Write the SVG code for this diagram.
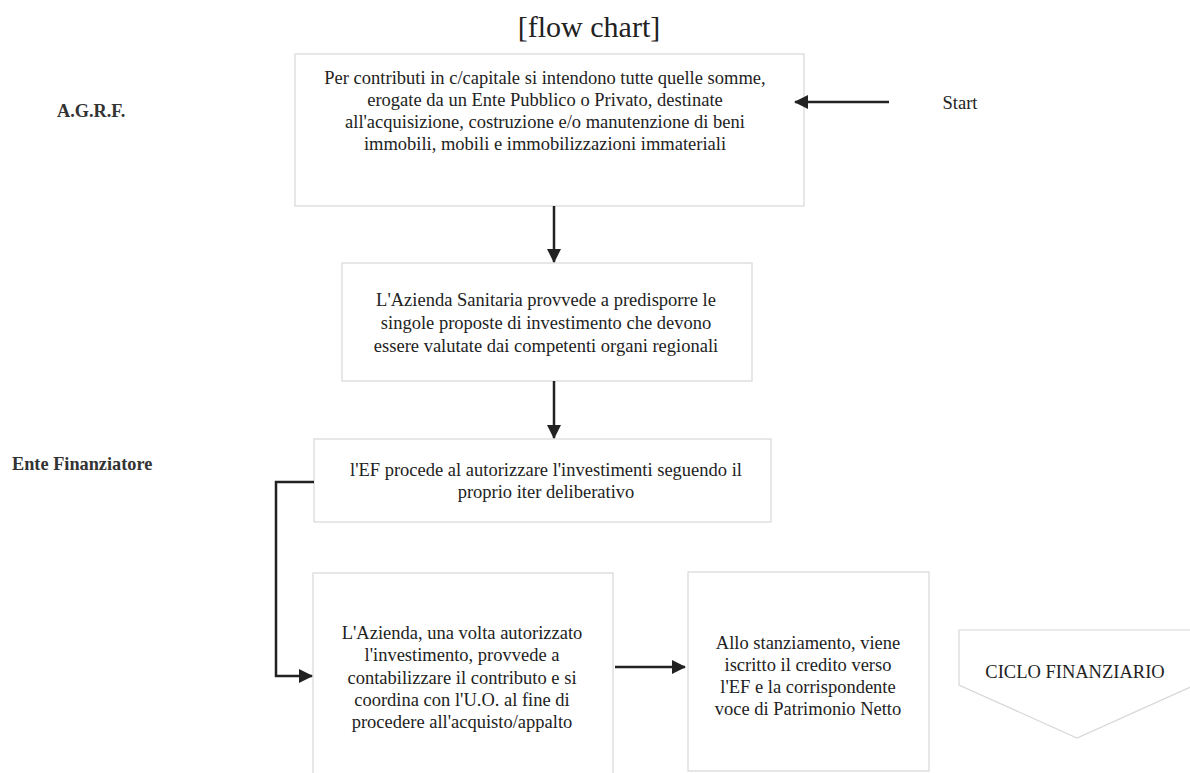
<svg xmlns="http://www.w3.org/2000/svg" width="1190" height="773" viewBox="0 0 1190 773">
  <style>
    .box { fill: #ffffff; stroke: #d8d8d8; stroke-width: 1.2; }
    .txt { font-family: "Liberation Serif", "Times New Roman", serif; font-size: 18.5px; fill: #222; text-anchor: middle; }
    .lbl { font-family: "Liberation Serif", "Times New Roman", serif; font-size: 18.3px; font-weight: bold; fill: #333; }
    .edge { fill: none; stroke: #222; stroke-width: 2.5; }
  </style>
  <defs>
    <marker id="arrow" viewBox="0 0 14 14" refX="13" refY="7" markerWidth="14" markerHeight="14" markerUnits="userSpaceOnUse" orient="auto">
      <path d="M0,0 L14,7 L0,14 z" fill="#222"/>
    </marker>
  </defs>
  <rect width="1190" height="773" fill="#ffffff"/>

  <text x="589" y="37" font-family="Liberation Serif, Times New Roman, serif" font-size="30" fill="#222" text-anchor="middle">[flow chart]</text>

  <text class="lbl" x="57" y="117">A.G.R.F.</text>
  <text class="lbl" x="12" y="470">Ente Finanziatore</text>
  <text class="txt" x="960" y="109">Start</text>

  <g id="node-definizione">
    <rect class="box" x="295" y="54" width="509" height="152"/>
    <text class="txt" x="545" y="84">Per contributi in c/capitale si intendono tutte quelle somme,</text>
    <text class="txt" x="545" y="106">erogate da un Ente Pubblico o Privato, destinate</text>
    <text class="txt" x="545" y="128">all'acquisizione, costruzione e/o manutenzione di beni</text>
    <text class="txt" x="545" y="150">immobili, mobili e immobilizzazioni immateriali</text>
  </g>

  <g id="node-proposte">
    <rect class="box" x="342" y="263" width="410" height="118"/>
    <text class="txt" x="546" y="306">L'Azienda Sanitaria provvede a predisporre le</text>
    <text class="txt" x="546" y="329">singole proposte di investimento che devono</text>
    <text class="txt" x="546" y="352">essere valutate dai competenti organi regionali</text>
  </g>

  <g id="node-autorizzazione">
    <rect class="box" x="314" y="439" width="457" height="83"/>
    <text class="txt" x="546" y="476">l'EF procede al autorizzare l'investimenti seguendo il</text>
    <text class="txt" x="546" y="498">proprio iter deliberativo</text>
  </g>

  <g id="node-contabilizzazione">
    <rect class="box" x="313" y="573" width="300" height="205"/>
    <text class="txt" x="462" y="639">L'Azienda, una volta autorizzato</text>
    <text class="txt" x="462" y="661">l'investimento, provvede a</text>
    <text class="txt" x="462" y="684">contabilizzare il contributo e si</text>
    <text class="txt" x="462" y="706">coordina con l'U.O. al fine di</text>
    <text class="txt" x="462" y="728">procedere all'acquisto/appalto</text>
  </g>

  <g id="node-stanziamento">
    <rect class="box" x="688" y="572" width="241" height="199"/>
    <text class="txt" x="808" y="649">Allo stanziamento, viene</text>
    <text class="txt" x="808" y="671">iscritto il credito verso</text>
    <text class="txt" x="808" y="693">l'EF e la corrispondente</text>
    <text class="txt" x="808" y="715">voce di Patrimonio Netto</text>
  </g>

  <g id="node-ciclo">
    <path class="box" d="M959,630 L1195,630 L1195,685 L1077,738 L959,685 Z"/>
    <text class="txt" x="1075" y="678">CICLO FINANZIARIO</text>
  </g>

  <g id="connectors">
    <path class="edge" d="M889,102 L795,102" marker-end="url(#arrow)"/>
    <path class="edge" d="M554,206 L554,262" marker-end="url(#arrow)"/>
    <path class="edge" d="M554,381 L554,438" marker-end="url(#arrow)"/>
    <path class="edge" d="M314,482 L276,482 L276,676 L312,676" marker-end="url(#arrow)"/>
    <path class="edge" d="M615,667 L685,667" marker-end="url(#arrow)"/>
  </g>
</svg>
